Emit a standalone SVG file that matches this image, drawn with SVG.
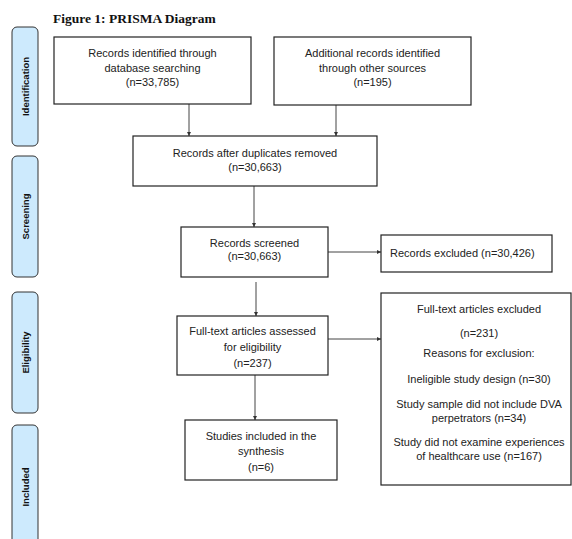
<svg xmlns="http://www.w3.org/2000/svg" width="572" height="539" viewBox="0 0 572 539">
<defs>
<marker id="ah" viewBox="0 0 6 6" refX="6" refY="3" markerWidth="4" markerHeight="4" orient="auto" markerUnits="userSpaceOnUse">
<path d="M0,0 L6,3 L0,6 z" fill="#333"/>
</marker>
</defs>
<style>
.title{font-family:"Liberation Serif",serif;font-weight:bold;font-size:13.5px;fill:#111}
.panel{fill:#cdeafd;stroke:#333;stroke-width:1}
.plabel{font-family:"Liberation Sans",Arial,sans-serif;font-weight:bold;font-size:9.5px;fill:#111;text-anchor:middle}
.box{fill:#fff;stroke:#222;stroke-width:1.2}
.t{font-family:"Liberation Sans",Arial,sans-serif;font-size:11px;fill:#222;text-anchor:middle}
.tl{font-family:"Liberation Sans",Arial,sans-serif;font-size:11px;fill:#222}
.c{stroke:#444;stroke-width:1;fill:none;marker-end:url(#ah)}
</style>
<rect width="572" height="539" fill="#fff"/>
<text class="title" x="53" y="23">Figure 1: PRISMA Diagram</text>

<g id="panel-identification">
<rect class="panel" x="12" y="27" width="26" height="119" rx="5"/>
<text class="plabel" transform="translate(28.5,86.5) rotate(-90)">Identification</text>
</g>
<g id="panel-screening">
<rect class="panel" x="12" y="156" width="26" height="121" rx="5"/>
<text class="plabel" transform="translate(28.5,216.5) rotate(-90)">Screening</text>
</g>
<g id="panel-eligibility">
<rect class="panel" x="12" y="292" width="26" height="121" rx="5"/>
<text class="plabel" transform="translate(28.5,352.5) rotate(-90)">Eligibility</text>
</g>
<g id="panel-included">
<rect class="panel" x="12" y="425" width="26" height="130" rx="5"/>
<text class="plabel" transform="translate(28.5,487) rotate(-90)">Included</text>
</g>

<g id="connectors">
<line class="c" x1="189" y1="104" x2="189" y2="136"/>
<line class="c" x1="336" y1="105" x2="336" y2="136"/>
<line class="c" x1="254" y1="186" x2="254" y2="227"/>
<line class="c" x1="328" y1="252" x2="381" y2="252"/>
<line class="c" x1="256" y1="282" x2="256" y2="316"/>
<line class="c" x1="328" y1="339" x2="381" y2="339"/>
<line class="c" x1="255" y1="375" x2="255" y2="420"/>
</g>

<g id="node-database">
<rect class="box" x="54" y="37" width="197" height="67"/>
<text class="t" x="152.5" y="57">Records identified through</text>
<text class="t" x="152.5" y="71.5">database searching</text>
<text class="t" x="152.5" y="86">(n=33,785)</text>
</g>
<g id="node-other">
<rect class="box" x="274" y="37" width="197" height="68"/>
<text class="t" x="372.5" y="57">Additional records identified</text>
<text class="t" x="372.5" y="71.5">through other sources</text>
<text class="t" x="372.5" y="86">(n=195)</text>
</g>
<g id="node-duplicates">
<rect class="box" x="133" y="136" width="244" height="50"/>
<text class="t" x="255" y="157">Records after duplicates removed</text>
<text class="t" x="255" y="171">(n=30,663)</text>
</g>
<g id="node-screened">
<rect class="box" x="181" y="227" width="147" height="50"/>
<text class="t" x="254.5" y="247">Records screened</text>
<text class="t" x="254.5" y="259.5">(n=30,663)</text>
</g>
<g id="node-excluded">
<rect class="box" x="381" y="235" width="171" height="37"/>
<text class="tl" x="390" y="257">Records excluded (n=30,426)</text>
</g>
<g id="node-fulltext">
<rect class="box" x="177" y="316" width="151" height="59"/>
<text class="t" x="252.5" y="335">Full-text articles assessed</text>
<text class="t" x="252.5" y="351">for eligibility</text>
<text class="t" x="252.5" y="367">(n=237)</text>
</g>
<g id="node-fulltext-excluded">
<rect class="box" x="381" y="293" width="190" height="192"/>
<text class="t" x="479" y="313">Full-text articles excluded</text>
<text class="t" x="479" y="337">(n=231)</text>
<text class="t" x="479" y="357">Reasons for exclusion:</text>
<text class="t" x="479" y="383">Ineligible study design (n=30)</text>
<text class="t" x="479" y="408">Study sample did not include DVA</text>
<text class="t" x="479" y="421.5">perpetrators (n=34)</text>
<text class="t" x="479" y="446">Study did not examine experiences</text>
<text class="t" x="479" y="460">of healthcare use (n=167)</text>
</g>
<g id="node-included">
<rect class="box" x="185" y="420" width="152" height="60"/>
<text class="t" x="261" y="440">Studies included in the</text>
<text class="t" x="261" y="455">synthesis</text>
<text class="t" x="261" y="470.5">(n=6)</text>
</g>
</svg>
